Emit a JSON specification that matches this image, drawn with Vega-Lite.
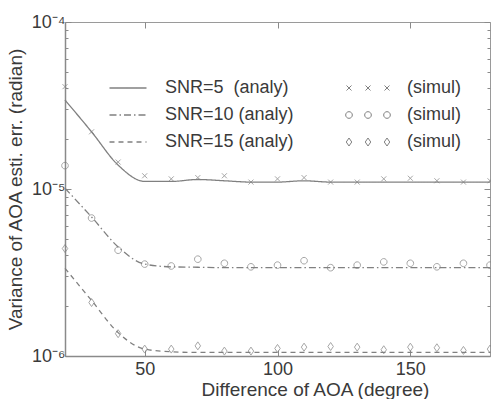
{
  "$schema": "https://vega.github.io/schema/vega-lite/v6.json",
  "width": 425,
  "height": 334,
  "autosize": {"type": "none"},
  "padding": {"left": 65, "top": 22, "right": 1, "bottom": 43},
  "config": {
    "font": "Liberation Sans",
    "view": {"stroke": "#9a9a9a", "strokeWidth": 1},
    "axis": {
      "labelFont": "Liberation Sans", "titleFont": "Liberation Sans",
      "labelColor": "#3a3a3a", "titleColor": "#3a3a3a",
      "labelFontSize": 18, "titleFontSize": 19, "titleFontWeight": "normal",
      "domainColor": "#8a8a8a", "tickColor": "#8a8a8a", "grid": false
    },
    "legend": {"labelFont": "Liberation Sans", "labelFontSize": 18, "labelColor": "#3a3a3a"}
  },
  "datasets": {
    "analy": [
      {"deg": 20, "val": 3.41e-5, "series": "SNR=5"},
      {"deg": 30, "val": 2.2e-5, "series": "SNR=5"},
      {"deg": 40, "val": 1.39e-5, "series": "SNR=5"},
      {"deg": 50, "val": 1.11e-5, "series": "SNR=5"},
      {"deg": 60, "val": 1.11e-5, "series": "SNR=5"},
      {"deg": 70, "val": 1.14e-5, "series": "SNR=5"},
      {"deg": 80, "val": 1.12e-5, "series": "SNR=5"},
      {"deg": 90, "val": 1.1e-5, "series": "SNR=5"},
      {"deg": 100, "val": 1.1e-5, "series": "SNR=5"},
      {"deg": 110, "val": 1.12e-5, "series": "SNR=5"},
      {"deg": 120, "val": 1.1e-5, "series": "SNR=5"},
      {"deg": 130, "val": 1.1e-5, "series": "SNR=5"},
      {"deg": 140, "val": 1.1e-5, "series": "SNR=5"},
      {"deg": 150, "val": 1.1e-5, "series": "SNR=5"},
      {"deg": 160, "val": 1.1e-5, "series": "SNR=5"},
      {"deg": 170, "val": 1.1e-5, "series": "SNR=5"},
      {"deg": 180, "val": 1.1e-5, "series": "SNR=5"},
      {"deg": 20, "val": 1.01e-5, "series": "SNR=10"},
      {"deg": 30, "val": 6.8e-6, "series": "SNR=10"},
      {"deg": 40, "val": 4.5e-6, "series": "SNR=10"},
      {"deg": 50, "val": 3.55e-6, "series": "SNR=10"},
      {"deg": 60, "val": 3.42e-6, "series": "SNR=10"},
      {"deg": 70, "val": 3.4e-6, "series": "SNR=10"},
      {"deg": 80, "val": 3.38e-6, "series": "SNR=10"},
      {"deg": 90, "val": 3.38e-6, "series": "SNR=10"},
      {"deg": 100, "val": 3.38e-6, "series": "SNR=10"},
      {"deg": 110, "val": 3.38e-6, "series": "SNR=10"},
      {"deg": 120, "val": 3.38e-6, "series": "SNR=10"},
      {"deg": 130, "val": 3.38e-6, "series": "SNR=10"},
      {"deg": 140, "val": 3.38e-6, "series": "SNR=10"},
      {"deg": 150, "val": 3.38e-6, "series": "SNR=10"},
      {"deg": 160, "val": 3.38e-6, "series": "SNR=10"},
      {"deg": 170, "val": 3.38e-6, "series": "SNR=10"},
      {"deg": 180, "val": 3.38e-6, "series": "SNR=10"},
      {"deg": 20, "val": 3.35e-6, "series": "SNR=15"},
      {"deg": 30, "val": 2.15e-6, "series": "SNR=15"},
      {"deg": 40, "val": 1.38e-6, "series": "SNR=15"},
      {"deg": 50, "val": 1.1e-6, "series": "SNR=15"},
      {"deg": 60, "val": 1.06e-6, "series": "SNR=15"},
      {"deg": 70, "val": 1.05e-6, "series": "SNR=15"},
      {"deg": 80, "val": 1.05e-6, "series": "SNR=15"},
      {"deg": 90, "val": 1.05e-6, "series": "SNR=15"},
      {"deg": 100, "val": 1.05e-6, "series": "SNR=15"},
      {"deg": 110, "val": 1.05e-6, "series": "SNR=15"},
      {"deg": 120, "val": 1.05e-6, "series": "SNR=15"},
      {"deg": 130, "val": 1.05e-6, "series": "SNR=15"},
      {"deg": 140, "val": 1.05e-6, "series": "SNR=15"},
      {"deg": 150, "val": 1.05e-6, "series": "SNR=15"},
      {"deg": 160, "val": 1.05e-6, "series": "SNR=15"},
      {"deg": 170, "val": 1.05e-6, "series": "SNR=15"},
      {"deg": 180, "val": 1.05e-6, "series": "SNR=15"}
    ],
    "simul": [
      {"deg": 20, "val": 4.1e-5, "series": "SNR=5"},
      {"deg": 30, "val": 2.2e-5, "series": "SNR=5"},
      {"deg": 40, "val": 1.45e-5, "series": "SNR=5"},
      {"deg": 50, "val": 1.2e-5, "series": "SNR=5"},
      {"deg": 60, "val": 1.15e-5, "series": "SNR=5"},
      {"deg": 70, "val": 1.17e-5, "series": "SNR=5"},
      {"deg": 80, "val": 1.2e-5, "series": "SNR=5"},
      {"deg": 90, "val": 1.1e-5, "series": "SNR=5"},
      {"deg": 100, "val": 1.15e-5, "series": "SNR=5"},
      {"deg": 110, "val": 1.17e-5, "series": "SNR=5"},
      {"deg": 120, "val": 1.1e-5, "series": "SNR=5"},
      {"deg": 130, "val": 1.1e-5, "series": "SNR=5"},
      {"deg": 140, "val": 1.15e-5, "series": "SNR=5"},
      {"deg": 150, "val": 1.16e-5, "series": "SNR=5"},
      {"deg": 160, "val": 1.12e-5, "series": "SNR=5"},
      {"deg": 170, "val": 1.1e-5, "series": "SNR=5"},
      {"deg": 180, "val": 1.12e-5, "series": "SNR=5"},
      {"deg": 20, "val": 1.38e-5, "series": "SNR=10"},
      {"deg": 30, "val": 6.7e-6, "series": "SNR=10"},
      {"deg": 40, "val": 4.3e-6, "series": "SNR=10"},
      {"deg": 50, "val": 3.55e-6, "series": "SNR=10"},
      {"deg": 60, "val": 3.46e-6, "series": "SNR=10"},
      {"deg": 70, "val": 3.8e-6, "series": "SNR=10"},
      {"deg": 80, "val": 3.59e-6, "series": "SNR=10"},
      {"deg": 90, "val": 3.42e-6, "series": "SNR=10"},
      {"deg": 100, "val": 3.5e-6, "series": "SNR=10"},
      {"deg": 110, "val": 3.72e-6, "series": "SNR=10"},
      {"deg": 120, "val": 3.38e-6, "series": "SNR=10"},
      {"deg": 130, "val": 3.5e-6, "series": "SNR=10"},
      {"deg": 140, "val": 3.66e-6, "series": "SNR=10"},
      {"deg": 150, "val": 3.59e-6, "series": "SNR=10"},
      {"deg": 160, "val": 3.42e-6, "series": "SNR=10"},
      {"deg": 170, "val": 3.59e-6, "series": "SNR=10"},
      {"deg": 180, "val": 3.5e-6, "series": "SNR=10"},
      {"deg": 20, "val": 4.4e-6, "series": "SNR=15"},
      {"deg": 30, "val": 2.09e-6, "series": "SNR=15"},
      {"deg": 40, "val": 1.36e-6, "series": "SNR=15"},
      {"deg": 50, "val": 1.1e-6, "series": "SNR=15"},
      {"deg": 60, "val": 1.1e-6, "series": "SNR=15"},
      {"deg": 70, "val": 1.15e-6, "series": "SNR=15"},
      {"deg": 80, "val": 1.07e-6, "series": "SNR=15"},
      {"deg": 90, "val": 1.07e-6, "series": "SNR=15"},
      {"deg": 100, "val": 1.11e-6, "series": "SNR=15"},
      {"deg": 110, "val": 1.13e-6, "series": "SNR=15"},
      {"deg": 120, "val": 1.14e-6, "series": "SNR=15"},
      {"deg": 130, "val": 1.13e-6, "series": "SNR=15"},
      {"deg": 140, "val": 1.09e-6, "series": "SNR=15"},
      {"deg": 150, "val": 1.13e-6, "series": "SNR=15"},
      {"deg": 160, "val": 1.12e-6, "series": "SNR=15"},
      {"deg": 170, "val": 1.08e-6, "series": "SNR=15"},
      {"deg": 180, "val": 1.1e-6, "series": "SNR=15"}
    ]
  },
  "layer": [
    {
      "data": {"name": "analy"},
      "mark": {"type": "line", "color": "#808080", "strokeWidth": 1.3, "interpolate": "monotone"},
      "encoding": {
        "x": {
          "field": "deg", "type": "quantitative",
          "scale": {"domain": [20, 180], "nice": false, "zero": false},
          "axis": {
            "orient": "bottom", "values": [50, 100, 150], "tickSize": -6, "labelPadding": 10,
            "domainWidth": 1.5,
            "title": "Difference of AOA (degree)", "titleX": 250, "titleY": 39,
            "titleAlign": "center", "titleBaseline": "alphabetic"
          }
        },
        "y": {
          "field": "val", "type": "quantitative",
          "scale": {"type": "log", "domain": [1e-6, 1e-4], "nice": false},
          "axis": {
            "orient": "left",
            "values": [1e-6, 2e-6, 3e-6, 4e-6, 5e-6, 6e-6, 7e-6, 8e-6, 9e-6, 1e-5, 2e-5, 3e-5, 4e-5, 5e-5, 6e-5, 7e-5, 8e-5, 9e-5, 1e-4],
            "tickSize": {"condition": {"test": "datum.value == 1e-4 || datum.value == 1e-5 || datum.value == 1e-6", "value": -6}, "value": -3},
            "labelExpr": "datum.value == 1e-4 ? '10⁻⁴' : datum.value == 1e-5 ? '10⁻⁵' : datum.value == 1e-6 ? '10⁻⁶' : ''",
            "labelPadding": 6, "domainWidth": 1.5,
            "title": "Variance of AOA esti. err. (radian)", "titlePadding": 6
          }
        },
        "strokeDash": {
          "field": "series", "type": "nominal",
          "scale": {"domain": ["SNR=5", "SNR=10", "SNR=15"], "range": [[1, 0], [7, 3, 1.5, 3], [5, 4]]},
          "legend": {
            "orient": "none", "legendX": 54, "legendY": 57, "title": null,
            "symbolType": "M-10,0L10,0", "symbolSize": 13.7, "symbolStrokeWidth": 1.3, "symbolStrokeColor": "#808080",
            "labelOffset": 28, "rowPadding": 9, "padding": 0,
            "labelExpr": "datum.label == 'SNR=5' ? 'SNR=5\u00a0\u00a0(analy)' : datum.label + ' (analy)'"
          }
        }
      }
    },
    {
      "data": {"name": "simul"},
      "mark": {"type": "point", "filled": false, "color": "#808080", "strokeWidth": 1, "size": 25},
      "encoding": {
        "x": {"field": "deg", "type": "quantitative", "axis": null},
        "y": {"field": "val", "type": "quantitative", "axis": null},
        "shape": {
          "field": "series", "type": "nominal",
          "scale": {
            "domain": ["SNR=5", "SNR=10", "SNR=15"],
            "range": ["M-1,-1L1,1M-1,1L1,-1", "M1.33,0A1.33,1.33 0 1,1 -1.33,0A1.33,1.33 0 1,1 1.33,0Z", "M0,-1.6L1.1,0L0,1.6L-1.1,0Z"]
          },
          "legend": null
        }
      }
    },
    {
      "data": {"name": "simul"},
      "mark": {"type": "point", "filled": false, "color": "#808080", "strokeWidth": 1, "size": 25, "opacity": 0},
      "encoding": {
        "x": {
          "field": "deg", "type": "quantitative",
          "axis": {"orient": "top", "values": [50, 100, 150], "tickSize": -6, "labels": false, "domain": false, "title": null}
        },
        "y": {
          "field": "val", "type": "quantitative",
          "axis": {
            "orient": "right",
            "values": [1e-6, 2e-6, 3e-6, 4e-6, 5e-6, 6e-6, 7e-6, 8e-6, 9e-6, 1e-5, 2e-5, 3e-5, 4e-5, 5e-5, 6e-5, 7e-5, 8e-5, 9e-5, 1e-4],
            "tickSize": {"condition": {"test": "datum.value == 1e-4 || datum.value == 1e-5 || datum.value == 1e-6", "value": -6}, "value": -3},
            "labels": false, "domain": false, "title": null
          }
        },
        "shape": {
          "field": "series", "type": "nominal",
          "scale": {
            "domain": ["SNR=5", "SNR=10", "SNR=15"],
            "range": [
              "M-8.6,-1L-6.6,1M-8.6,1L-6.6,-1M-1,-1L1,1M-1,1L1,-1M6.6,-1L8.6,1M6.6,1L8.6,-1",
              "M-6.27,0A1.33,1.33 0 1,1 -8.93,0A1.33,1.33 0 1,1 -6.27,0ZM1.33,0A1.33,1.33 0 1,1 -1.33,0A1.33,1.33 0 1,1 1.33,0ZM8.93,0A1.33,1.33 0 1,1 6.27,0A1.33,1.33 0 1,1 8.93,0Z",
              "M-7.6,-1.6L-6.5,0L-7.6,1.6L-8.7,0ZM0,-1.6L1.1,0L0,1.6L-1.1,0ZM7.6,-1.6L8.7,0L7.6,1.6L6.5,0Z"
            ]
          },
          "legend": {
            "orient": "none", "legendX": 294, "legendY": 57, "title": null,
            "symbolSize": 25, "symbolOpacity": 1, "symbolStrokeColor": "#808080", "symbolFillColor": "transparent",
            "symbolStrokeWidth": 1, "labelOffset": 30, "rowPadding": 9, "padding": 0,
            "labelExpr": "'(simul)'"
          }
        }
      }
    }
  ],
  "resolve": {"axis": {"x": "independent", "y": "independent"}, "scale": {"shape": "independent"}}
}
